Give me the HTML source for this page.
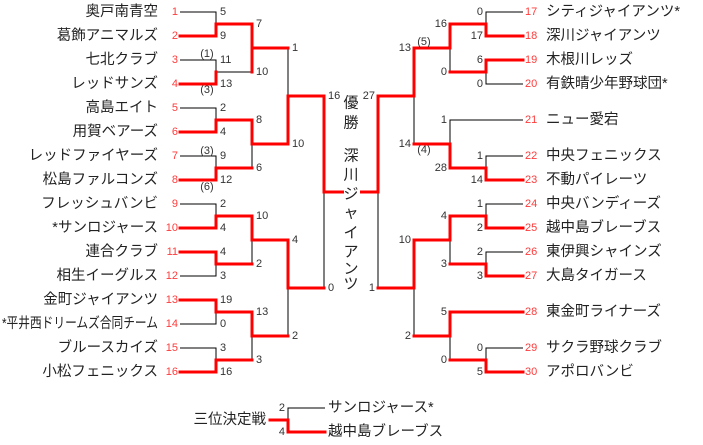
<!DOCTYPE html>
<html><head><meta charset="utf-8"><style>
html,body{margin:0;padding:0;background:#fff;}
svg{display:block;}
text{font-family:"Liberation Sans","Noto Sans CJK JP",sans-serif;}
.n{font-size:14.5px;fill:#222;dominant-baseline:central;}
.s{font-size:11px;fill:#ff3b3b;dominant-baseline:central;}
.c{font-size:11px;fill:#333;dominant-baseline:central;}
.w{font-size:15px;fill:#222;dominant-baseline:central;text-anchor:middle;}
.b{stroke:#000;stroke-width:1;fill:none;}
.r{stroke:#f00;stroke-width:3;fill:none;stroke-linecap:square;}
</style></head><body>
<svg width="703" height="445" viewBox="0 0 703 445" xmlns="http://www.w3.org/2000/svg">
<path class="b" d="M180 12H216V36H180M180 60H216V84H180M180 108H216V132H180M180 156H216V180H180M180 204H216V228H180M180 252H216V276H180M180 300H216V324H180M180 348H216V372H180
M216 24H252V72H216M216 120H252V168H216M216 216H252V264H216M216 312H252V360H216
M252 48H288V144H252M252 240H288V336H252M288 96H324V288H288"/>
<path class="r" d="M180 36H216V24H252V72M216 72V84H180"/>
<path class="r" d="M180 132H216V120H252V144H288V96H324V192H344"/>
<path class="r" d="M180 180H216V168H252"/>
<path class="r" d="M252 72V48H288"/>
<path class="r" d="M180 228H216V216H252V240H288V288H324"/>
<path class="r" d="M180 252H216V264H252"/>
<path class="r" d="M180 300H216V312H252V336H288"/>
<path class="r" d="M180 372H216V360H252"/>
<path class="b" d="M523 12H486V36H523M523 60H486V84H523M523 156H486V180H523M523 204H486V228H523M523 252H486V276H523M523 348H486V372H523
M523 120H450V168H486M486 24H450V72H486M486 216H450V264H486M523 312H450V360H486
M450 48H414V144H450M450 240H414V336H450M414 96H378V288H414"/>
<path class="r" d="M523 36H486V24H450V48H414V96H378V192H360"/>
<path class="r" d="M523 60H486V72H450"/>
<path class="r" d="M523 180H486V168H450V144H414"/>
<path class="r" d="M523 228H486V216H450V240H414V288H378"/>
<path class="r" d="M523 276H486V264H450"/>
<path class="r" d="M523 312H450V336H414"/>
<path class="r" d="M523 372H486V360H450"/>
<path class="b" d="M288 420V408H325"/>
<path class="r" d="M270 420H288V432H325"/>

<g class="n" text-anchor="end">
<text x="158" y="12">奥戸南青空</text>
<text x="158" y="36">葛飾アニマルズ</text>
<text x="158" y="60">七北クラブ</text>
<text x="158" y="84">レッドサンズ</text>
<text x="158" y="108">高島エイト</text>
<text x="158" y="132">用賀ベアーズ</text>
<text x="158" y="156">レッドファイヤーズ</text>
<text x="158" y="180">松島ファルコンズ</text>
<text x="158" y="204">フレッシュバンビ</text>
<text x="158" y="228">*サンロジャース</text>
<text x="158" y="252">連合クラブ</text>
<text x="158" y="276">相生イーグルス</text>
<text x="158" y="300">金町ジャイアンツ</text>
<text x="158" y="324" textLength="156" lengthAdjust="spacingAndGlyphs">*平井西ドリームズ合同チーム</text>
<text x="158" y="348">ブルースカイズ</text>
<text x="158" y="372">小松フェニックス</text>
</g>
<g class="s" text-anchor="end">
<text x="178" y="12">1</text><text x="178" y="36">2</text><text x="178" y="60">3</text><text x="178" y="84">4</text>
<text x="178" y="108">5</text><text x="178" y="132">6</text><text x="178" y="156">7</text><text x="178" y="180">8</text>
<text x="178" y="204">9</text><text x="178" y="228">10</text><text x="178" y="252">11</text><text x="178" y="276">12</text>
<text x="178" y="300">13</text><text x="178" y="324">14</text><text x="178" y="348">15</text><text x="178" y="372">16</text>
</g>
<g class="c">
<text x="220" y="12">5</text><text x="220" y="36">9</text><text x="220" y="60">11</text><text x="220" y="84">13</text>
<text x="220" y="108">2</text><text x="220" y="132">4</text><text x="220" y="156">9</text><text x="220" y="180">12</text>
<text x="220" y="204">2</text><text x="220" y="228">4</text><text x="220" y="252">4</text><text x="220" y="276">3</text>
<text x="220" y="300">19</text><text x="220" y="324">0</text><text x="220" y="348">3</text><text x="220" y="372">16</text>
<text x="256" y="24">7</text><text x="256" y="72">10</text><text x="256" y="120">8</text><text x="256" y="168">6</text>
<text x="256" y="216">10</text><text x="256" y="264">2</text><text x="256" y="312">13</text><text x="256" y="360">3</text>
<text x="292" y="48">1</text><text x="292" y="144">10</text><text x="292" y="240">4</text><text x="292" y="336">2</text>
<text x="328" y="96">16</text><text x="328" y="288">0</text>
<text x="207" y="54" text-anchor="middle">(1)</text><text x="207" y="90" text-anchor="middle">(3)</text>
<text x="207" y="151" text-anchor="middle">(3)</text><text x="207" y="187" text-anchor="middle">(6)</text>
</g>

<g class="n">
<text x="546" y="12">シティジャイアンツ*</text>
<text x="546" y="36">深川ジャイアンツ</text>
<text x="546" y="60">木根川レッズ</text>
<text x="546" y="84">有鉄晴少年野球団*</text>
<text x="546" y="120">ニュー愛宕</text>
<text x="546" y="156">中央フェニックス</text>
<text x="546" y="180">不動パイレーツ</text>
<text x="546" y="204">中央バンディーズ</text>
<text x="546" y="228">越中島ブレーブス</text>
<text x="546" y="252">東伊興シャインズ</text>
<text x="546" y="276">大島タイガース</text>
<text x="546" y="312">東金町ライナーズ</text>
<text x="546" y="348">サクラ野球クラブ</text>
<text x="546" y="372">アポロバンビ</text>
</g>
<g class="s">
<text x="525" y="12">17</text><text x="525" y="36">18</text><text x="525" y="60">19</text><text x="525" y="84">20</text>
<text x="525" y="120">21</text><text x="525" y="156">22</text><text x="525" y="180">23</text><text x="525" y="204">24</text>
<text x="525" y="228">25</text><text x="525" y="252">26</text><text x="525" y="276">27</text><text x="525" y="312">28</text>
<text x="525" y="348">29</text><text x="525" y="372">30</text>
</g>
<g class="c" text-anchor="end">
<text x="483" y="12">0</text><text x="483" y="36">17</text><text x="483" y="60">6</text><text x="483" y="84">0</text>
<text x="483" y="156">1</text><text x="483" y="180">14</text><text x="483" y="204">1</text><text x="483" y="228">2</text>
<text x="483" y="252">2</text><text x="483" y="276">3</text><text x="483" y="348">0</text><text x="483" y="372">5</text>
<text x="447" y="24">16</text><text x="447" y="72">0</text><text x="447" y="120">1</text><text x="447" y="168">28</text>
<text x="447" y="216">4</text><text x="447" y="264">3</text><text x="447" y="312">5</text><text x="447" y="360">0</text>
<text x="411" y="48">13</text><text x="411" y="144">14</text><text x="411" y="240">10</text><text x="411" y="336">2</text>
<text x="375" y="96">27</text><text x="375" y="288">1</text>
</g>
<g class="c" text-anchor="middle">
<text x="424" y="42">(5)</text><text x="424" y="150">(4)</text>
</g>

<rect x="344" y="182" width="16" height="20" fill="#fff"/>
<g class="w">
<text x="351" y="103">優</text>
<text x="351" y="123">勝</text>
<text x="351" y="156">深</text>
<text x="351" y="175">川</text>
<text x="351" y="194">ジ</text>
<text x="351" y="213">ャ</text>
<text x="351" y="233">イ</text>
<text x="351" y="252">ア</text>
<text x="351" y="269">ン</text>
<text x="351" y="284">ツ</text>
</g>

<text class="n" x="266" y="420" text-anchor="end">三位決定戦</text>
<text class="c" x="285" y="408" text-anchor="end">2</text>
<text class="c" x="285" y="432" text-anchor="end">4</text>
<text class="n" x="328" y="408">サンロジャース*</text>
<text class="n" x="328" y="432">越中島ブレーブス</text>
</svg>
</body></html>
